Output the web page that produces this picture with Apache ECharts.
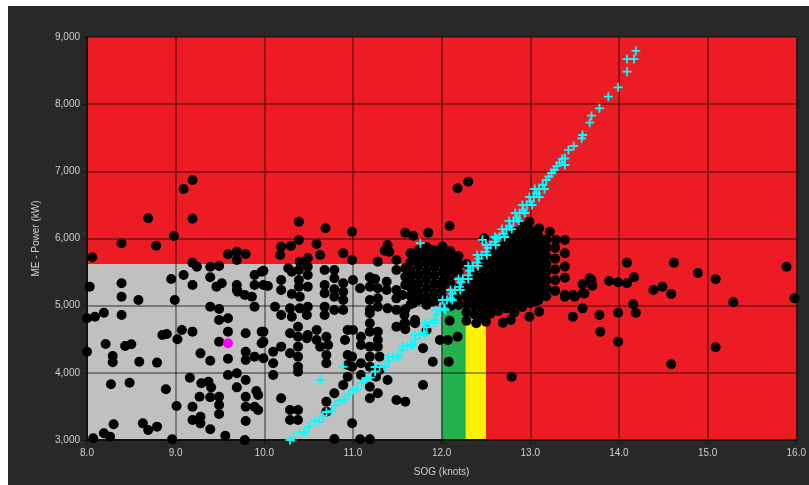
<!DOCTYPE html>
<html>
<head>
    <meta charset='utf-8'>
    <title>ME Power vs SOG</title>
    <script src='https://cdn.jsdelivr.net/npm/echarts@6/dist/echarts.min.js'></script>
    <style>
        body { margin: 0; background: #ffffff; }
        #panel { position: absolute; left: 8px; top: 6px; width: 801px; height: 479px; background: #282828; }
        #main { width: 801px; height: 479px; }
    </style>
</head>
<body>
<div id='panel'><div id='main'></div></div>
<script type='text/javascript'>
// axis ranges
var sogRange = [8, 16];
var powerRange = [3000, 9000];

// background zones: [sogFrom, sogTo, powerTop]
var greyZone = [8.0, 12.0, 5620];
var greenZone = [12.0, 12.27, 5000];
var yellowZone = [12.27, 12.5, 5000];

// measured points (SOG knots, power kW)
var loosePoints = [
    [9.19,6871],[9.09,6737],[8.69,6301],[9.19,6295],[8.98,6037],[8.39,5929],[8.78,5893],[8.06,5720],
    [9.59,5765],[9.69,5804],[9.79,5769],[9.69,5680],
    [10.39,6250],[10.69,6152],[10.99,6101],[10.39,5978],[10.19,5878],[10.30,5888],[10.59,5918],
    [10.18,5754],[10.63,5754],[10.89,5780],[10.49,5705],[10.99,5680],
    [11.59,6086],[11.68,6042],[11.85,6086],[11.39,5903],[11.36,5819],[11.41,5804],[11.28,5655],
    [11.49,5680],[11.68,5690],[11.79,5754],[11.88,5829],
    [12.18,6747],[12.30,6846],[12.09,6186],[12.48,6003],
    [14.09,5640],[14.62,5640],[14.89,5486],[15.09,5392],[15.89,5580],[15.98,5110],[15.29,5050],
    [15.09,4380],[14.59,4127],[14.39,5233],[14.49,5282],[14.59,5173],[14.17,5422],[14.09,5333],
    [13.99,5348],[13.89,5367],[13.69,5382],[13.70,5297],[14.16,5020],[14.19,4895],[13.99,4895],
    [13.78,4860],[13.79,4612],[13.99,4463],
    [13.39,5977],[13.39,5780],[13.39,5582],[13.39,5416],[13.29,5977],[13.22,6101],[13.10,6151],
    [12.99,6250],[13.59,5318],[13.67,5407],[13.39,5133],[13.50,5133],[13.61,5183],[13.48,4836],
    [13.59,4960],[13.10,4910],[12.99,4836],[12.78,4786],[12.69,4746],[12.50,4761],[12.39,4737],
    [12.28,4776],[12.78,4985],[13.05,5060],[12.09,4776],[12.18,4538],[12.08,4166],[12.79,3943],
    [13.39,5159],[13.48,5159],[13.59,5184],
    [9.19,5640],[9.24,5580],[9.39,5580],[9.49,5590],[8.95,5397],[9.09,5457],[9.19,5308],[9.39,5422],
    [9.46,5283],[9.52,5333],[9.69,5308],[9.69,5233],[9.89,5457],[9.97,5506],[9.89,5308],[8.03,5283],
    [8.39,5333],[8.39,5134],[8.58,5084],[8.99,5084],[9.78,5159],[9.86,5134],
    [9.39,4985],[9.49,4950],[9.70,5208],[9.89,4985],[8.19,4895],[8.09,4836],[8.00,4812],[8.39,4861],
    [9.49,4787],[9.59,4812],[9.59,4613],[9.79,4588],[9.97,4613],[9.07,4638],[9.19,4613],[8.85,4563],
    [8.90,4578],[9.02,4500],[9.49,4464],[8.21,4429],[8.43,4400],[8.50,4425],[8.00,4315],[8.29,4251],
    [8.29,4157],[8.59,4166],[8.79,4152],[9.28,4290],[9.39,4181],[9.59,4211],[9.79,4315],[9.79,4191],
    [9.89,4241],[9.97,4440],[9.59,3968],[9.69,3993],[9.79,3893],[9.16,3928],[9.29,3844],[9.37,3868],
    [9.40,3784],[9.69,3784],[9.91,3730],[9.93,3670],[8.27,3829],[8.48,3853],[8.89,3755],[9.27,3645],
    [9.39,3636],[9.49,3645],[9.49,3521],[9.49,3387],[9.79,3645],[9.79,3496],[9.89,3496],[9.93,3447],
    [9.01,3506],[9.19,3496],[9.28,3347],[9.28,3248],[9.19,3298],[9.39,3159],[9.56,3064],[9.79,3283],
    [8.30,3234],[8.19,3100],[8.26,3050],[8.07,3025],[8.63,3248],[8.69,3149],[8.79,3199],[8.96,3010],
    [9.78,3000],
    [9.99,5521],[9.99,5308],[10.04,5293],[10.27,5556],[10.31,5506],[10.40,5655],[10.39,5531],
    [10.39,5382],[10.39,5283],[10.49,5580],[10.49,5457],[10.49,5283],[10.19,5382],[10.19,5233],
    [10.31,5174],[10.40,5134],[10.68,5531],[10.79,5531],[10.79,5407],[10.68,5308],[10.68,5184],
    [10.79,5243],[10.79,5134],[10.89,5333],[10.89,5208],[10.89,5084],[11.00,5382],[11.08,5259],
    [11.19,5422],[11.25,5397],[11.28,5259],[11.28,5109],[11.28,4985],[11.38,5357],[11.38,5233],
    [11.39,4960],[11.49,4935],[11.59,4945],[11.59,5556],[11.59,5432],[11.59,5308],[11.49,5531],
    [11.69,5283],[11.69,5134],[11.49,4687],[11.59,4737],[11.59,4648],[11.79,4365],[11.70,4787],
    [11.98,4489],[12.07,4489],[11.79,3819],[11.19,4241],[11.30,4241],[11.19,4092],[11.30,4042],
    [11.39,3893],[11.26,3943],[11.19,3794],[11.19,3621],[11.28,3695],[11.49,3596],[11.59,3571],
    [10.99,4241],[10.99,4092],[10.99,3249],[11.09,3968],[11.09,4142],[11.19,4613],[11.19,4737],
    [11.19,4886],[11.28,4613],[11.28,4489],[11.09,4414],[10.91,4489],[10.94,4638],[10.94,4266],
    [10.94,4117],[10.94,3943],[10.79,3695],[10.70,3571],[10.89,3819],[10.70,4142],[10.70,4266],
    [10.70,4538],[10.72,4414],[10.59,4638],[10.59,4489],[10.63,4390],[10.49,4563],[10.48,4514],
    [10.38,4687],[10.38,4538],[10.38,4390],[10.38,4241],[10.38,4092],[10.38,4017],[10.29,4588],
    [10.29,4291],[10.19,4390],[10.10,4315],[10.10,4142],[10.10,3968],[9.99,4613],[9.99,4464],
    [9.99,4216],[10.12,4985],[10.29,4960],[10.40,4960],[10.19,4861],[10.31,4836],[10.19,3621],
    [10.29,3447],[10.29,3298],[10.38,3447],[10.38,3298],[10.70,3422],[11.49,5233],[11.49,5109],
    [11.19,5283],[11.19,5084],[11.19,4935],[10.89,4935],[10.79,4935],[10.68,4985],[10.68,4861],
    [10.49,4985],[10.48,4861],[11.00,4638],[11.09,4538],[11.19,4390],[11.28,4390],[11.83,4638],
    [11.90,4166],[11.08,3010],[11.19,3010],[10.79,3015],
    [11.56,5159],[11.68,5035],[11.58,4861],[11.58,4737],[11.70,4737]
];

// dense cloud, read column by column: [sog, [power values]]
var denseColumns = [
    [11.65, [5020,5150,5270,5400,5520,5650,5780]],
    [11.74, [5080,5200,5330,5460,5590,5720,5830]],
    [11.83, [5010,5130,5260,5390,5510,5640,5760,5870]],
    [11.92, [5060,5190,5320,5450,5580,5700,5820]],
    [12.01, [5120,5250,5370,5500,5630,5760,5880]],
    [12.10, [4990,5330,5450,5570,5690,5810]],
    [12.19, [5010,5130,5250,5500,5620,5740]],
    [12.28, [4900,5020,5140,5260,5380,5620]],
    [12.37, [4870,4990,5110,5230,5350,5470]],
    [12.46, [4830,4950,5070,5190,5310,5430,5560,5680]],
    [12.55, [4880,5000,5120,5240,5360,5480,5600,5720,5840]],
    [12.64, [4920,5040,5160,5280,5400,5520,5640,5760,5880]],
    [12.73, [4960,5080,5200,5320,5440,5560,5680,5800,5920,6030]],
    [12.82, [4900,5020,5140,5260,5380,5500,5620,5740,5860,5980,6100]],
    [12.91, [4980,5100,5220,5340,5460,5580,5700,5820,5940,6060,6180]],
    [13.00, [5040,5160,5280,5400,5520,5640,5760,5880,6000,6120]],
    [13.09, [5080,5200,5320,5440,5560,5680,5800,5920,6040]],
    [13.18, [5140,5260,5380,5500,5620,5740,5860,5980]],
    [13.28, [5220,5380,5540,5700,5860]]
];

// reference curve points (cyan crosses)
var curvePoints = [
    [10.29,3000],[10.33,3040],[10.40,3119],[10.45,3110],[10.50,3200],[10.57,3283],[10.62,3270],
    [10.66,3360],[10.70,3417],[10.76,3430],[10.80,3520],[10.85,3581],[10.90,3600],[10.95,3680],
    [11.00,3745],[11.05,3760],[11.10,3850],[11.15,3923],[11.20,3930],[11.25,4020],[11.30,4087],
    [11.35,4100],[11.40,4170],[11.45,4236],[11.50,4250],[11.55,4330],[11.61,4400],[11.66,4420],
    [11.70,4500],[11.75,4563],[11.80,4600],[11.83,4680],[11.86,4742],[11.92,4780],[11.95,4860],
    [11.98,4935],[12.03,4960],[12.06,5084],[12.10,5110],[12.12,5180],[12.15,5233],[12.20,5280],
    [12.22,5350],[12.24,5397],[12.30,5450],[12.32,5520],[12.35,5591],[12.40,5640],[12.42,5700],
    [12.45,5754],[12.50,5800],[12.52,5860],[12.55,5903],[12.60,5950],[12.62,6000],[12.65,6022],
    [12.70,6070],[12.73,6141],[12.77,6180],[12.81,6261],[12.85,6300],[12.88,6380],[12.92,6420],
    [12.96,6499],[13.00,6550],[13.04,6618],[13.07,6670],[13.10,6737],[13.14,6800],[13.18,6871],
    [13.21,6920],[13.24,6975],[13.27,7020],[13.30,7079],[13.33,7130],[13.36,7184],[13.39,7094],
    [13.39,7194],[13.43,7318],[13.49,7377],[13.58,7492],[13.59,7541],[13.67,7724],[13.69,7828],
    [13.78,7938],[13.88,8111],[13.99,8251],[14.09,8484],[14.09,8672],[14.17,8672],[14.19,8792],
    [10.63,3893],[10.89,4090],[11.76,5930],[12.46,5980],
    // right edge of the thick band
    [11.36,4087],[11.51,4236],[11.67,4400],[11.81,4563],[11.92,4742],[12.04,4935],[12.12,5084],
    [12.21,5233],[12.30,5397],[12.41,5591],[12.51,5754],[12.61,5903],[12.71,6022],[12.79,6141],
    [12.87,6261],[12.94,6380],[13.02,6499],[13.10,6618],[13.16,6737],
    // left edge of the thick band
    [11.25,4087],[11.40,4236],[11.56,4400],[11.70,4563],[11.81,4742],[11.93,4935],[12.01,5084],
    [12.10,5233],[12.19,5397],[12.30,5591],[12.40,5754],[12.50,5903],[12.60,6022],[12.68,6141],
    [12.76,6261],[12.83,6380],[12.91,6499],[12.99,6618],[13.05,6737]
];

// highlighted current point
var currentPoint = [[9.59,4440]];

var blackPoints = loosePoints.slice();
denseColumns.forEach(function (col) {
    col[1].forEach(function (p) { blackPoints.push([col[0], p]); });
});

var labelColor = '#c8d0da';
var crossPath = 'path://M4,0H6V4H10V6H6V10H4V6H0V4H4Z';

var myChart = echarts.init(document.getElementById('main'));

var option = {
    animation: false,
    grid: {
        show: true, left: 79, top: 31, width: 710, height: 403,
        backgroundColor: '#ed1c24', borderWidth: 0
    },
    xAxis: {
        type: 'value', min: sogRange[0], max: sogRange[1], interval: 1, z: 2,
        name: 'SOG (knots)', nameLocation: 'middle', nameGap: 27,
        nameTextStyle: { color: labelColor, fontSize: 10, fontFamily: 'Liberation Sans' },
        axisLine: { show: true, lineStyle: { color: '#111111', width: 2 } },
        axisTick: { show: true, length: 4, lineStyle: { color: '#111111' } },
        axisLabel: { color: labelColor, fontSize: 10, fontFamily: 'Liberation Sans', margin: 8,
            formatter: function (v) { return v.toFixed(1); } },
        splitLine: { show: true, lineStyle: { color: 'rgba(0,0,0,0.5)', width: 1.5 } }
    },
    yAxis: {
        type: 'value', min: powerRange[0], max: powerRange[1], interval: 1000, z: 2,
        name: 'ME - Power (kW)', nameLocation: 'middle', nameGap: 46, nameRotate: 90,
        nameTextStyle: { color: labelColor, fontSize: 10, fontFamily: 'Liberation Sans' },
        axisLine: { show: true, lineStyle: { color: '#111111', width: 2 } },
        axisTick: { show: true, length: 4, lineStyle: { color: '#111111' } },
        axisLabel: { color: labelColor, fontSize: 10, fontFamily: 'Liberation Sans', margin: 7,
            formatter: function (v) { return v.toLocaleString('en-US'); } },
        splitLine: { show: true, lineStyle: { color: 'rgba(0,0,0,0.5)', width: 1.5 } }
    },
    series: [
        {
            type: 'scatter', data: [], z: 1, silent: true,
            markArea: {
                silent: true, z: 1,
                data: [
                    [{ xAxis: greyZone[0], yAxis: powerRange[0], itemStyle: { color: '#c0c0c0' } },
                     { xAxis: greyZone[1], yAxis: greyZone[2] }],
                    [{ xAxis: greenZone[0], yAxis: powerRange[0], itemStyle: { color: '#22b14c' } },
                     { xAxis: greenZone[1], yAxis: greenZone[2] }],
                    [{ xAxis: yellowZone[0], yAxis: powerRange[0], itemStyle: { color: '#fff200' } },
                     { xAxis: yellowZone[1], yAxis: yellowZone[2] }]
                ]
            }
        },
        {
            type: 'scatter', data: blackPoints, z: 3, symbol: 'circle', symbolSize: 10,
            itemStyle: { color: '#000000', opacity: 1 }
        },
        {
            type: 'scatter', data: curvePoints, z: 4, symbol: crossPath, symbolSize: 9,
            itemStyle: { color: '#00ffff', opacity: 1 }
        },
        {
            type: 'scatter', data: currentPoint, z: 5, symbol: 'circle', symbolSize: 10,
            itemStyle: { color: '#ff00ff', opacity: 1 }
        }
    ]
};

myChart.setOption(option);
</script>
</body>
</html>
